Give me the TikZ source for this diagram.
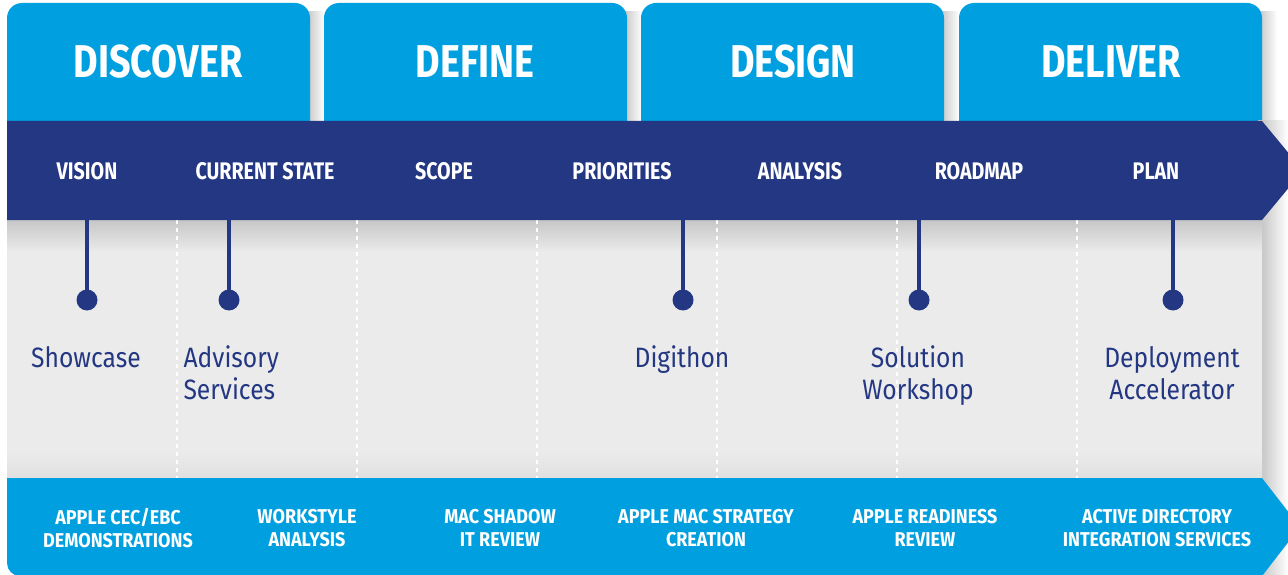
\documentclass[tikz,border=0pt]{standalone}
\usepackage{fontspec}
\setmainfont{Fira Sans}[FakeStretch=0.88]
\newfontfamily\condfont{Fira Sans}[FakeStretch=0.82]
\newfontfamily\servicefont{Fira Sans}[FakeStretch=0.9]

\definecolor{skyblue}{HTML}{009FDF}
\definecolor{navy}{HTML}{243782}
\definecolor{panelgray}{HTML}{EBEBEB}

\tikzset{
    phase/.style={text=white, font=\condfont\bfseries\fontsize{46}{50}\selectfont},
    milestone/.style={text=white, font=\condfont\bfseries\fontsize{24}{26}\selectfont},
    service/.style={text=white, align=center, font=\servicefont\bfseries\fontsize{20}{23}\selectfont},
    offer/.style={text=navy, anchor=base, font=\fontsize{28}{32}\selectfont},
    dot/.style={circle, fill=navy, minimum size=21pt, inner sep=0pt},
    stem/.style={navy, line width=4.5pt}
}

\begin{document}
\begin{tikzpicture}[x=1pt,y=-1pt]
        \useasboundingbox (0,0) rectangle (1288,575);
        \clip (0,0) rectangle (1288,575);
        \fill[white] (0,0) rectangle (1288,575);

        % tabs with their shadows
        \foreach \x in {7,324,641,959} {
            \shade[left color=black!22, right color=white] (\x+300,12) rectangle (\x+318,121);
            \fill[skyblue, rounded corners=15pt] (\x,3) rectangle (\x+303,150);
        }
        \node[phase] (discover) at (158,62) {DISCOVER};
        \node[phase] (define) at (475,62) {DEFINE};
        \node[phase] (design) at (793,62) {DESIGN};
        \node[phase] (deliver) at (1111,62) {DELIVER};

        % grey panel
        \shade[left color=black!25, right color=white] (1258,121) rectangle (1288,575);
        \fill[panelgray] (7,215) rectangle (1262,490);
        \shade[top color=black!22, bottom color=panelgray] (7,220) rectangle (1262,252);
        \shade[top color=panelgray, bottom color=black!12] (7,452) rectangle (1262,478);
        \foreach \x in {177,357,537,717,897,1077}
            \draw[white, line width=1.5pt, dash pattern=on 4pt off 4pt] (\x,220) -- (\x,478);

        % dark arrow band
        \fill[navy] (7,121) -- (1262,121) -- (1303,170.5) -- (1262,220) -- (7,220) -- cycle;
        \node[milestone] (vision) at (87,171) {VISION};
        \node[milestone] (current) at (265,171) {CURRENT STATE};
        \node[milestone] (scope) at (444,171) {SCOPE};
        \node[milestone] (priorities) at (622,171) {PRIORITIES};
        \node[milestone] (analysis) at (800,171) {ANALYSIS};
        \node[milestone] (roadmap) at (979,171) {ROADMAP};
        \node[milestone] (plan) at (1156,171) {PLAN};

        % stems and dots
        \coordinate (top-showcase) at (87,219);
        \coordinate (top-advisory) at (229,219);
        \coordinate (top-digithon) at (683,219);
        \coordinate (top-solution) at (919,219);
        \coordinate (top-deploy) at (1173,219);
        \node[dot] (dot-showcase) at (87,300) {};
        \node[dot] (dot-advisory) at (229,300) {};
        \node[dot] (dot-digithon) at (683,300) {};
        \node[dot] (dot-solution) at (919,300) {};
        \node[dot] (dot-deploy) at (1173,300) {};
        \draw[stem] (top-showcase) -- (dot-showcase.center);
        \draw[stem] (top-advisory) -- (dot-advisory.center);
        \draw[stem] (top-digithon) -- (dot-digithon.center);
        \draw[stem] (top-solution) -- (dot-solution.center);
        \draw[stem] (top-deploy) -- (dot-deploy.center);

        % offers, two line ones sit on their last baseline
        \node[offer] (showcase) at (86,367) {Showcase};
        \node[offer, align=left, anchor=base west] (advisory) at (180,399) {Advisory\\Services};
        \node[offer] (digithon) at (682,367) {Digithon};
        \node[offer, align=center] (solution) at (918,399) {Solution\\Workshop};
        \node[offer, align=center] (deploy) at (1172,399) {Deployment\\Accelerator};

        % light blue arrow band
        \fill[skyblue, rounded corners=13pt] (7,478) rectangle (200,576);
        \fill[skyblue] (7,478) rectangle (60,530);
        \fill[skyblue] (100,478) -- (1262,478) -- (1300,527) -- (1262,576) -- (100,576) -- cycle;
        \node[service] (cec) at (118,528) {APPLE CEC/EBC\\DEMONSTRATIONS};
        \node[service] (workstyle) at (307,528) {WORKSTYLE\\ANALYSIS};
        \node[service] (shadow) at (500,528) {MAC SHADOW\\IT REVIEW};
        \node[service] (strategy) at (706,528) {APPLE MAC STRATEGY\\CREATION};
        \node[service] (readiness) at (925,528) {APPLE READINESS\\REVIEW};
        \node[service] (directory) at (1157,528) {ACTIVE DIRECTORY\\INTEGRATION SERVICES};
    \end{tikzpicture}
\end{document}
